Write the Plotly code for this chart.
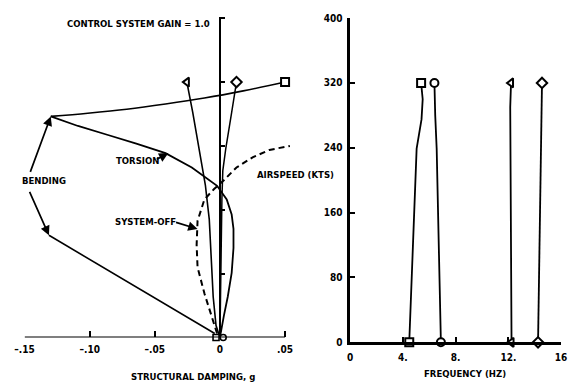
import plotly.graph_objects as go

W, H = 571, 389
FONT = "Liberation Sans Narrow, DejaVu Sans Condensed, Arial Narrow, sans-serif"
BLACK = "black"

# ---------------- Left panel: structural damping g vs airspeed (kts) ----------------
# square mode lower branch: from origin, bulging right, then torsion branch up-left to the cusp
torsion_g = [0.0, 0.00075, 0.003, 0.006, 0.009, 0.0104, 0.0104, 0.009, 0.0052, -0.0022,
             -0.0082, -0.0216, -0.0418, -0.0642, -0.0866, -0.109, -0.1299]
torsion_kts = [0, 8, 27, 51, 81, 112, 136, 154, 173, 190,
               197, 213, 231, 243, 254, 265, 277]
# square mode upper branch: cusp -> square marker
bend_upper_g = [-0.1299, -0.1015, -0.0716, -0.0418, -0.0119, 0.0179, 0.05]
bend_upper_kts = [277, 281, 286, 292.5, 300, 309, 320]
# bending lower branch (straight line)
bend_lower_g = [-0.004, -0.1313]
bend_lower_kts = [5, 128]
# triangle mode
tri_g = [0.0, -0.003, -0.0052, -0.0067, -0.0082, -0.0112, -0.0157, -0.0209, -0.0254]
tri_kts = [0, 15, 51, 100, 148, 191, 234, 282, 320]
# diamond mode
dia_g = [0.0, 0.00075, 0.0015, 0.0022, 0.0045, 0.009, 0.0127]
dia_kts = [0, 100, 173, 209, 237, 282, 320]
# system-off (dashed)
off_g = [-0.0022, -0.0067, -0.0119, -0.0172, -0.0179, -0.0172, -0.0119, -0.0045, 0.003, 0.0127, 0.0254, 0.038, 0.0537]
off_kts = [5, 27, 55, 88, 116, 146, 173, 186, 197, 213, 226, 235, 240]
# start markers at zero airspeed
start_sq_g, start_ci_g = -0.003, 0.0025

# ---------------- Right panel: frequency (Hz) vs airspeed (kts) ----------------
sq_f = [4.48, 4.7, 4.92, 5.04, 5.41, 5.5, 5.38]
sq_kts = [0, 100, 199, 239, 275, 300, 320]
ci_f = [6.88, 6.75, 6.61, 6.56, 6.45, 6.39]
ci_kts = [0, 100, 199, 239, 280, 320]
tr_f = [12.24, 12.2, 12.17, 12.17, 12.14, 12.2]
tr_kts = [0, 100, 199, 239, 290, 320]
di_f = [14.25, 14.35, 14.45, 14.47, 14.5, 14.55]
di_kts = [0, 100, 199, 239, 290, 320]

g_ticks = [-0.15, -0.10, -0.05, 0, 0.05]
g_ticktext = ["\u2013.15", "\u2013.10", "\u2013.05", "0", ".05"]
kts_ticks = [0, 80, 160, 240, 320, 400]
f_ticks = [0, 4, 8, 12, 16]
f_ticktext = ["0", "4.", "8.", "12.", "16"]

fig = go.Figure()

def mk(symbol, size=8, w=2):
    return dict(symbol=symbol, size=size, color="white", line=dict(color=BLACK, width=w))

def lp(w=1.6, dash="solid", shape="linear"):
    return dict(color=BLACK, width=w, dash=dash, shape=shape)

# left traces
fig.add_trace(go.Scatter(x=torsion_g, y=torsion_kts, mode="lines", line=lp(1.8), xaxis="x", yaxis="y"))
fig.add_trace(go.Scatter(x=bend_upper_g, y=bend_upper_kts, mode="lines", line=lp(1.6, shape="spline"), xaxis="x", yaxis="y"))
fig.add_trace(go.Scatter(x=bend_lower_g, y=bend_lower_kts, mode="lines", line=lp(1.6), xaxis="x", yaxis="y"))
fig.add_trace(go.Scatter(x=tri_g, y=tri_kts, mode="lines", line=lp(1.6), xaxis="x", yaxis="y"))
fig.add_trace(go.Scatter(x=dia_g, y=dia_kts, mode="lines", line=lp(1.5), xaxis="x", yaxis="y"))
fig.add_trace(go.Scatter(x=off_g, y=off_kts, mode="lines", line=lp(2, "6px,4px"), xaxis="x", yaxis="y"))
# left end markers
fig.add_trace(go.Scatter(x=[bend_upper_g[-1]], y=[bend_upper_kts[-1]], mode="markers", marker=mk("square"), xaxis="x", yaxis="y", cliponaxis=False))
fig.add_trace(go.Scatter(x=[tri_g[-1]], y=[tri_kts[-1]], mode="markers", marker=mk("triangle-left"), xaxis="x", yaxis="y", cliponaxis=False))
fig.add_trace(go.Scatter(x=[dia_g[-1]], y=[dia_kts[-1]], mode="markers", marker=mk("diamond"), xaxis="x", yaxis="y", cliponaxis=False))
fig.add_trace(go.Scatter(x=[start_sq_g], y=[0], mode="markers", marker=mk("square", 6, 1.6), xaxis="x", yaxis="y", cliponaxis=False))
fig.add_trace(go.Scatter(x=[start_ci_g], y=[0], mode="markers", marker=mk("circle", 6, 1.6), xaxis="x", yaxis="y", cliponaxis=False))

# right traces
for f, k, sym in [(sq_f, sq_kts, "square"), (ci_f, ci_kts, "circle"), (tr_f, tr_kts, "triangle-left"), (di_f, di_kts, "diamond")]:
    fig.add_trace(go.Scatter(x=f, y=k, mode="lines", line=lp(1.8), xaxis="x2", yaxis="y2"))
    fig.add_trace(go.Scatter(x=[f[0], f[-1]], y=[k[0], k[-1]], mode="markers", marker=mk(sym), xaxis="x2", yaxis="y2", cliponaxis=False))

tickfont = dict(family=FONT, size=10, color=BLACK, weight="bold")

# left panel geometry: g=-0.15 at px 15, 1340 px per unit
left_x0 = 15
ppu = 1340.0
xr = [-0.15, 0.056]
left_x1 = left_x0 + (xr[1] - xr[0]) * ppu
zero_px = left_x0 + (0 - xr[0]) * ppu

fig.update_layout(
    width=W, height=H, margin=dict(l=0, r=0, t=0, b=0),
    paper_bgcolor="white", plot_bgcolor="rgba(0,0,0,0)", showlegend=False,
    xaxis=dict(domain=[left_x0 / W, left_x1 / W], range=xr, anchor="y",
               showgrid=False, zeroline=False, showline=False,
               tickvals=g_ticks, ticktext=g_ticktext, ticks="inside", ticklen=6, tickwidth=2,
               tickcolor=BLACK, tickfont=tickfont, ticklabelstandoff=5, ticklabeloverflow="allow"),
    yaxis=dict(domain=[1 - 342 / H, 1 - 11 / H], range=[0, 402], anchor="free", position=zero_px / W,
               showgrid=False, zeroline=False, showline=True, linecolor=BLACK, linewidth=2,
               tickvals=kts_ticks[1:], ticks="inside", ticklen=4, tickwidth=1.5, tickcolor=BLACK,
               showticklabels=False),
    xaxis2=dict(domain=[350 / W, 567 / W], range=[0, 16], anchor="y2",
                showgrid=False, zeroline=False, showline=True, linecolor=BLACK, linewidth=2.5,
                tickvals=f_ticks, ticktext=f_ticktext, ticks="inside", ticklen=6, tickwidth=2,
                tickcolor=BLACK, tickfont=tickfont, ticklabelstandoff=4, ticklabeloverflow="allow"),
    yaxis2=dict(domain=[1 - 347 / H, 1 - 12.5 / H], range=[0, 400], anchor="x2",
                showgrid=False, zeroline=False, showline=True, linecolor=BLACK, linewidth=2.5,
                tickvals=kts_ticks, ticktext=[str(v) for v in kts_ticks], ticks="inside", ticklen=5,
                tickwidth=1.5, tickcolor=BLACK, tickfont=tickfont, ticklabelstandoff=3),
)

# left x-axis baseline from -.15 to .05
fig.add_shape(type="line", xref="x", yref="y", x0=g_ticks[0], x1=g_ticks[-1], y0=0, y1=0,
              line=dict(color=BLACK, width=2))

def ptext(txt, px, py, size=9.5):
    fig.add_annotation(text="<b>%s</b>" % txt, xref="paper", yref="paper", x=px / W, y=1 - py / H,
                       showarrow=False, font=dict(family=FONT, size=size, color=BLACK),
                       xanchor="center", yanchor="middle")

ptext("CONTROL SYSTEM GAIN = 1.0", 132, 18)
ptext("BENDING", 35, 180)
ptext("TORSION", 131, 159)
ptext("SYSTEM-OFF", 139, 222)
ptext("AIRSPEED (KTS)", 294, 174)
ptext("STRUCTURAL DAMPING, g", 188, 382)
ptext("FREQUENCY (HZ)", 468, 379)

def arrow(xd, yd, ax, ay):
    fig.add_annotation(text="", x=xd, y=yd, xref="x", yref="y", ax=ax, ay=ay,
                       showarrow=True, arrowhead=2, arrowsize=1.1, arrowwidth=1.7, arrowcolor=BLACK)

# BENDING arrows (heads on bending curve points)
arrow(bend_upper_g[0], bend_upper_kts[0], -21, 57)
arrow(bend_lower_g[-1], bend_lower_kts[-1], -20, -45)
# TORSION arrow
arrow(-0.0396, 231, -13, 7)
# SYSTEM-OFF arrow
arrow(-0.0172, 136, -23, -7)

fig.write_html("out.html")
